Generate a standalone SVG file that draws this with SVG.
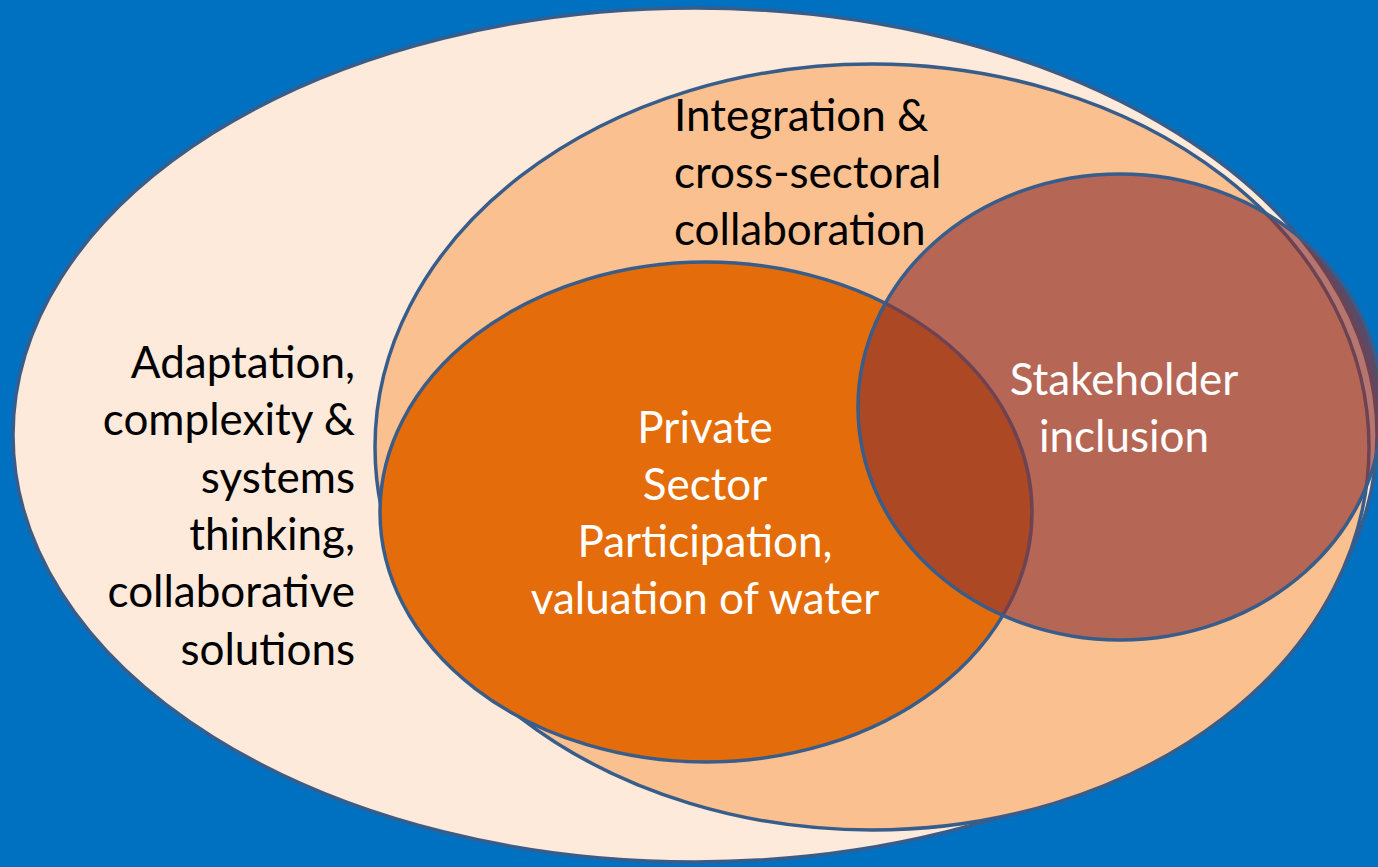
<svg xmlns="http://www.w3.org/2000/svg" width="1378" height="867" viewBox="0 0 1378 867">
<style>
.e{stroke:#385D8A;stroke-width:3.5}
.t{font-family:Lato,"Open Sans",sans-serif;font-size:44px}
.dk{fill:#000}
.wh{fill:#fff}
</style>
<rect x="0" y="0" width="1378" height="867" fill="#0070C0"/>
<g id="outer">
<ellipse class="e" cx="695" cy="435" rx="682" ry="427" fill="#FDEADA"/>
<text class="t dk" text-anchor="end"><tspan x="355" y="378">Adaptation,</tspan><tspan x="355" y="435">complexity &amp;</tspan><tspan x="355" y="493">systems</tspan><tspan x="355" y="550">thinking,</tspan><tspan x="355" y="607">collaborative</tspan><tspan x="355" y="665">solutions</tspan></text>
</g>
<g id="integration">
<ellipse class="e" cx="872" cy="447" rx="497" ry="383" fill="#FAC090"/>
<text class="t dk"><tspan x="674" y="131">Integration &amp;</tspan><tspan x="674" y="188">cross-sectoral</tspan><tspan x="674" y="245">collaboration</tspan></text>
</g>
<g id="private">
<ellipse class="e" cx="706" cy="512" rx="326" ry="250" fill="#E46C0A"/>
<text class="t wh" text-anchor="middle"><tspan x="705" y="443">Private</tspan><tspan x="705" y="500">Sector</tspan><tspan x="705" y="557">Participation,</tspan><tspan x="705" y="614">valuation of water</tspan></text>
</g>
<g id="stakeholder">
<ellipse class="e" cx="1120" cy="407" rx="262" ry="233" fill="#8F3334" fill-opacity="0.64"/>
<text class="t wh" text-anchor="middle"><tspan x="1124" y="395">Stakeholder</tspan><tspan x="1124" y="452">inclusion</tspan></text>
</g>
<g id="connectors"/>
</svg>
